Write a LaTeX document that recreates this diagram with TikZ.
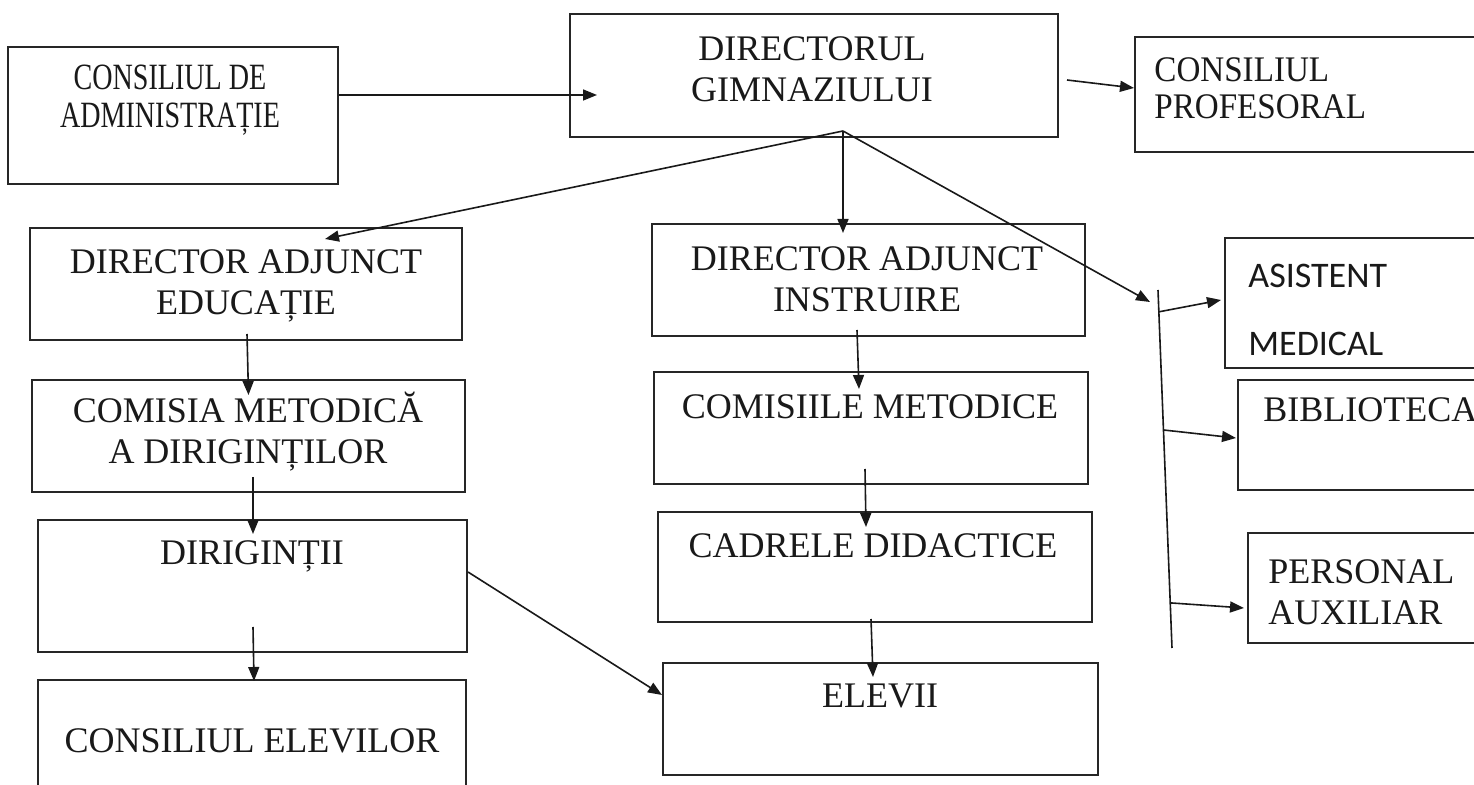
\documentclass[tikz,border=0pt]{standalone}
\usepackage{fontspec}
\usepackage{graphicx}
\setmainfont{Liberation Serif}
\newfontfamily\calib{Carlito}
\usetikzlibrary{fit,calc,arrows.meta}
\begin{document}
\begin{tikzpicture}[x=0.5pt,y=-0.5pt,
  box/.style={draw=black!85, line width=1pt, inner sep=0pt, rectangle},
  txt/.style={font=\fontsize{18}{20.5}\selectfont, align=center, inner sep=0pt, text=black!90},
  ltxt/.style={font=\fontsize{18}{20.5}\selectfont, align=left, inner sep=0pt, anchor=west, text=black!90},
  arr/.style={draw=black!90, line width=0.8pt, -{Triangle[length=7pt,width=5.5pt]}},
  ln/.style={draw=black!90, line width=0.8pt}]
\useasboundingbox (0,0) rectangle (1474,785);
\clip (0,0) rectangle (1474,785);
\fill[white] (0,0) rectangle (1474,785);
% box corners
\newcommand{\mkbox}[5]{%
  \coordinate (#1-nw) at (#2,#3); \coordinate (#1-se) at (#4,#5);
  \node[box, fit=(#1-nw)(#1-se)] (#1) {};}
\mkbox{A}{8}{47}{338}{184}
\mkbox{B}{570}{14}{1058}{137}
\mkbox{C}{1135}{37}{1495}{152}
\mkbox{D}{30}{228}{462}{340}
\mkbox{E}{652}{224}{1085}{336}
\mkbox{F}{1225}{238}{1495}{368}
\mkbox{G}{32}{380}{465}{492}
\mkbox{H}{654}{372}{1088}{484}
\mkbox{I}{1238}{380}{1495}{490}
\mkbox{J}{38}{520}{467}{652}
\mkbox{K}{658}{512}{1092}{622}
\mkbox{L}{1248}{533}{1495}{643}
\mkbox{M}{38}{680}{466}{800}
\mkbox{N}{663}{663}{1098}{775}
% texts
\node[txt] (tA) at (170,100) {\scalebox{0.78}[1.03]{\begin{tabular}{@{}c@{}}CONSILIUL DE\\[-2pt]ADMINISTRAȚIE\end{tabular}}};
\node[txt] (tB) at (812,69) {DIRECTORUL\\GIMNAZIULUI};
\node[ltxt] (tC) at (1154,92) {\scalebox{0.92}[1]{\begin{tabular}{@{}l@{}}CONSILIUL\\[-2pt]PROFESORAL\end{tabular}}};
\node[txt] (tD) at (246,286) {DIRECTOR ADJUNCT\\EDUCAȚIE};
\node[txt] (tE) at (867,279) {DIRECTOR ADJUNCT\\INSTRUIRE};
\node[ltxt, font=\calib\fontsize{18}{20}\selectfont] (tF1) at (1248,276) {ASISTENT};
\node[ltxt, font=\calib\fontsize{18}{20}\selectfont] (tF2) at (1248,344) {MEDICAL};
\node[txt] (tG) at (248,432) {COMISIA METODICĂ\\A DIRIGINȚILOR};
\node[txt] (tH) at (870,407) {COMISIILE METODICE};
\node[ltxt] (tI) at (1263,410) {BIBLIOTECA};
\node[txt] (tJ) at (252,556) {DIRIGINȚII};
\node[txt] (tK) at (873,546) {CADRELE DIDACTICE};
\node[ltxt] (tL) at (1268,592) {PERSONAL\\AUXILIAR};
\node[txt] (tM) at (252,741) {CONSILIUL ELEVILOR};
\node[txt] (tN) at (880,696) {ELEVII};
% fan point and bar
\coordinate (fan) at ($(B.south)+(29,-7)$);
\coordinate (bartop) at (1158,290);
\coordinate (barbot) at (1172,648);
\draw[ln] (bartop) -- (barbot)
  coordinate[pos=0.061] (b1)
  coordinate[pos=0.391] (b2)
  coordinate[pos=0.874] (b3);
% connectors
\draw[arr] ($(A.east)+(0,-20.5)$) -- ($(B.west)+(28,19.5)$);
\draw[arr] ($(B.east)+(8,4.5)$) -- ($(C.west)+(0,-6.5)$);
\draw[arr] (fan) -- ($(D.north)+(79,12)$);
\draw[arr] (fan) -- ($(E.north)+(-25.5,10)$);
\draw[arr] (fan) -- ($(bartop)+(-8,12)$);
\draw[arr] (b1) -- ($(F.west)+(-3,-3)$);
\draw[arr] (b2) -- ($(I.west)+(-1,3)$);
\draw[arr] (b3) -- ($(L.west)+(-3,20)$);
\draw[arr] ($(D.south)+(1,-7)$) -- ($(G.north)+(0,16)$);
\draw[arr] ($(G.south)+(4.5,-16)$) -- ($(J.north)+(0.5,15)$);
\draw[arr] ($(J.south)+(0.5,-26)$) -- ($(M.north)+(2,2)$);
\draw[arr] ($(E.south)+(-11.5,-7)$) -- ($(H.north)+(-12,18)$);
\draw[arr] ($(H.south)+(-6,-16)$) -- ($(K.north)+(-9,16)$);
\draw[arr] ($(K.south)+(-4,-4)$) -- ($(N.north)+(-7.5,15)$);
\draw[arr] ($(J.east)+(0,-14)$) -- ($(N.west)+(0,-24)$);
\end{tikzpicture}
\end{document}
